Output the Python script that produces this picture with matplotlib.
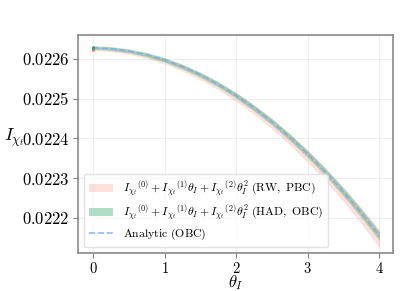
import matplotlib
matplotlib.use("Agg")
import matplotlib.pyplot as plt
import numpy as np

plt.rcParams['mathtext.fontset'] = 'cm'
plt.rcParams['font.family'] = 'DejaVu Serif'

# theta_I grid and curves
theta = [0.0, 0.25, 0.5, 0.75, 1.0, 1.25, 1.5, 1.75, 2.0,
         2.25, 2.5, 2.75, 3.0, 3.25, 3.5, 3.75, 4.0]
analytic = [0.022628, 0.0226257, 0.0226198, 0.0226103, 0.0225971, 0.0225803,
            0.0225598, 0.0225357, 0.022508, 0.0224766, 0.0224416, 0.022403,
            0.0223607, 0.0223148, 0.0222652, 0.022212, 0.0221552]
had_mean = [0.0226285, 0.0226262, 0.0226202, 0.0226107, 0.0225975, 0.0225806,
            0.0225601, 0.022536, 0.0225082, 0.0224767, 0.0224416, 0.022403,
            0.0223606, 0.0223146, 0.022265, 0.0222117, 0.0221548]
had_err = [4.5e-6, 4.7e-6, 5.0e-6, 5.3e-6, 5.6e-6, 6.0e-6, 6.3e-6, 6.7e-6, 7.0e-6,
           7.4e-6, 7.8e-6, 8.2e-6, 8.7e-6, 9.2e-6, 9.8e-6, 10.5e-6, 11.2e-6]
rw_mean = [0.0226255, 0.0226232, 0.0226172, 0.0226075, 0.0225941, 0.0225771,
           0.0225563, 0.0225319, 0.0225039, 0.0224721, 0.0224368, 0.0223978,
           0.0223551, 0.0223088, 0.0222589, 0.0222053, 0.0221481]
rw_err = [4.5e-6, 5.0e-6, 5.6e-6, 6.3e-6, 7.0e-6, 7.8e-6, 8.6e-6, 9.5e-6, 10.5e-6,
          11.5e-6, 12.6e-6, 13.8e-6, 15.1e-6, 16.6e-6, 18.3e-6, 20.2e-6, 22.5e-6]

yticks = [0.0222, 0.0223, 0.0224, 0.0225, 0.0226]
xticks = [0, 1, 2, 3, 4]

th = np.array(theta)
hm, he = np.array(had_mean), np.array(had_err)
rm, re = np.array(rw_mean), np.array(rw_err)

fig = plt.figure(figsize=(4.15, 2.91), dpi=100)
ax = fig.add_axes([78/415, 1-253/291, 315/415, 218/291])

lab = (r'${I_{\chi_t}}^{(0)} + {I_{\chi_t}}^{(1)}\theta_I + '
       r'{I_{\chi_t}}^{(2)}\theta_I^2\ \mathrm{(%s)}$')
ax.fill_between(th, rm-re, rm+re, color='#fb8072', alpha=0.25, lw=0,
                label=lab % r'RW,\ PBC')
ax.fill_between(th, hm-he, hm+he, color='#1fa35a', alpha=0.35, lw=0,
                label=lab % r'HAD,\ OBC')
ax.plot(th, analytic, '--', color='#7aa6ee', lw=1.2, alpha=0.8,
        label=r'$\mathrm{Analytic\ (OBC)}$')
ax.errorbar([theta[0]], [rw_mean[0]], yerr=[rw_err[0]], fmt='none',
            ecolor='#f0715f', elinewidth=2)
ax.errorbar([theta[0]], [had_mean[0]], yerr=[had_err[0]], fmt='none',
            ecolor='#22a05a', elinewidth=2)

ax.set_xlim(-0.21, 4.19)
ax.set_ylim(0.022112, 0.022660)
ax.set_xticks(xticks)
ax.set_xticklabels([r'$%d$' % t for t in xticks], fontsize=10.5)
ax.set_yticks(yticks)
ax.set_yticklabels([r'$%.4f$' % t for t in yticks], fontsize=12)
ax.grid(True, color='#eeeeee', lw=0.8)
ax.set_axisbelow(True)
for s in ax.spines.values():
    s.set_color('#808080')
    s.set_linewidth(1.1)
ax.tick_params(color='#808080', length=3.5, width=0.8, pad=2.5)
ax.tick_params(axis='x', pad=2)
ax.set_xlabel(r'$\theta_I$', fontsize=12, va='center')
ax.xaxis.set_label_coords(0.5, -0.137)
ax.set_ylabel(r'$I_{\chi_t}$', fontsize=13, rotation=0, ha='right', va='center')
ax.yaxis.set_label_coords(-0.17, 0.53)

leg = ax.legend(loc='lower left', fontsize=8.5, handlelength=2.1,
                frameon=True, fancybox=True, borderpad=0.4, labelspacing=0.35,
                handletextpad=0.8, bbox_to_anchor=(0.0, 0.0))
leg.get_frame().set_edgecolor('#dddddd')

fig.savefig('out.png', dpi=100)
